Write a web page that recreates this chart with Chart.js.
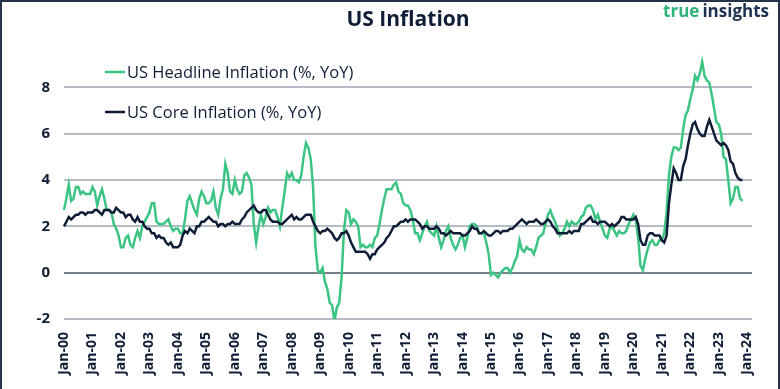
<!DOCTYPE html>
<html>
<head>
<meta charset="utf-8">
<script src="https://cdn.jsdelivr.net/npm/chart.js@4.4.1/dist/chart.umd.min.js"></script>
<style>
  html, body { margin: 0; padding: 0; background: #ffffff; }
  #wrap { width: 780px; height: 389px; position: relative; }
</style>
</head>
<body>
<div id="wrap"><canvas id="inflationChart" width="780" height="389"></canvas></div>
<script>
// US CPI, % YoY, monthly Jan 2000 - Nov 2023
const startYear = 2000;
const endYear = 2024; // axis runs a little past Jan-24
const extraMonths = 3;

const headline = [
  2.7, 3.2, 3.8, 3.1, 3.2, 3.7, 3.7, 3.4, 3.5, 3.4, 3.4, 3.4,
  3.7, 3.5, 2.9, 3.3, 3.6, 3.2, 2.7, 2.7, 2.6, 2.1, 1.9, 1.6,
  1.1, 1.1, 1.5, 1.6, 1.2, 1.1, 1.5, 1.8, 1.5, 2.0, 2.2, 2.4,
  2.6, 3.0, 3.0, 2.2, 2.1, 2.1, 2.1, 2.2, 2.3, 2.0, 1.8, 1.9,
  1.9, 1.7, 1.7, 2.3, 3.1, 3.3, 3.0, 2.7, 2.5, 3.2, 3.5, 3.3,
  3.0, 3.0, 3.1, 3.5, 2.8, 2.5, 3.2, 3.6, 4.7, 4.3, 3.5, 3.4,
  4.0, 3.6, 3.4, 3.5, 4.2, 4.3, 4.1, 3.8, 2.1, 1.3, 2.0, 2.5,
  2.1, 2.4, 2.8, 2.6, 2.7, 2.7, 2.4, 2.0, 2.8, 3.5, 4.3, 4.1,
  4.3, 4.0, 4.0, 3.9, 4.2, 5.0, 5.6, 5.4, 4.9, 3.7, 1.1, 0.1,
  0.0, 0.2, -0.4, -0.7, -1.3, -1.4, -2.1, -1.5, -1.3, -0.2, 1.8, 2.7,
  2.6, 2.1, 2.3, 2.2, 2.0, 1.1, 1.2, 1.1, 1.1, 1.2, 1.1, 1.5,
  1.6, 2.1, 2.7, 3.2, 3.6, 3.6, 3.6, 3.8, 3.9, 3.5, 3.4, 3.0,
  2.9, 2.9, 2.7, 2.3, 1.7, 1.7, 1.4, 1.7, 2.0, 2.2, 1.8, 1.7,
  1.6, 2.0, 1.5, 1.1, 1.4, 1.8, 2.0, 1.5, 1.2, 1.0, 1.2, 1.5,
  1.6, 1.1, 1.5, 2.0, 2.1, 2.1, 2.0, 1.7, 1.7, 1.7, 1.3, 0.8,
  -0.1, 0.0, -0.1, -0.2, 0.0, 0.1, 0.2, 0.2, 0.0, 0.2, 0.5, 0.7,
  1.4, 1.0, 0.9, 1.1, 1.0, 1.0, 0.8, 1.1, 1.5, 1.6, 1.7, 2.1,
  2.5, 2.7, 2.4, 2.2, 1.9, 1.6, 1.7, 1.9, 2.2, 2.0, 2.2, 2.1,
  2.1, 2.2, 2.4, 2.5, 2.8, 2.9, 2.9, 2.7, 2.3, 2.5, 2.2, 1.9,
  1.6, 1.5, 1.9, 2.0, 1.8, 1.6, 1.8, 1.7, 1.7, 1.8, 2.1, 2.3,
  2.5, 2.3, 1.5, 0.3, 0.1, 0.6, 1.0, 1.3, 1.4, 1.2, 1.2, 1.4,
  1.4, 1.7, 2.6, 4.2, 5.0, 5.4, 5.4, 5.3, 5.4, 6.2, 6.8, 7.0,
  7.5, 7.9, 8.5, 8.3, 8.6, 9.1, 8.5, 8.3, 8.2, 7.7, 7.1, 6.5,
  6.4, 6.0, 5.0, 4.9, 4.0, 3.0, 3.2, 3.7, 3.7, 3.2, 3.1
];

const core = [
  2.0, 2.2, 2.4, 2.3, 2.4, 2.5, 2.5, 2.6, 2.6, 2.5, 2.6, 2.6,
  2.6, 2.7, 2.7, 2.6, 2.5, 2.7, 2.7, 2.7, 2.6, 2.6, 2.8, 2.7,
  2.6, 2.6, 2.4, 2.5, 2.5, 2.3, 2.2, 2.4, 2.2, 2.2, 2.0, 1.9,
  1.9, 1.7, 1.7, 1.5, 1.6, 1.5, 1.5, 1.3, 1.2, 1.3, 1.1, 1.1,
  1.1, 1.2, 1.6, 1.8, 1.7, 1.9, 1.8, 1.7, 2.0, 2.0, 2.2, 2.2,
  2.3, 2.4, 2.3, 2.2, 2.2, 2.0, 2.1, 2.1, 2.0, 2.1, 2.1, 2.2,
  2.1, 2.1, 2.1, 2.3, 2.4, 2.6, 2.7, 2.8, 2.9, 2.7, 2.6, 2.6,
  2.7, 2.7, 2.5, 2.3, 2.2, 2.2, 2.2, 2.1, 2.1, 2.2, 2.3, 2.4,
  2.5, 2.3, 2.4, 2.3, 2.3, 2.4, 2.5, 2.5, 2.5, 2.2, 2.0, 1.8,
  1.7, 1.8, 1.8, 1.9, 1.8, 1.7, 1.5, 1.4, 1.5, 1.7, 1.7, 1.8,
  1.6, 1.3, 1.1, 0.9, 0.9, 0.9, 0.9, 0.9, 0.8, 0.6, 0.8, 0.8,
  1.0, 1.1, 1.2, 1.3, 1.5, 1.6, 1.8, 2.0, 2.0, 2.1, 2.2, 2.2,
  2.3, 2.2, 2.3, 2.3, 2.3, 2.2, 2.1, 1.9, 2.0, 2.0, 1.9, 1.9,
  1.9, 2.0, 1.9, 1.7, 1.7, 1.6, 1.7, 1.8, 1.7, 1.7, 1.7, 1.7,
  1.6, 1.6, 1.7, 1.8, 2.0, 1.9, 1.9, 1.7, 1.7, 1.8, 1.7, 1.6,
  1.6, 1.7, 1.8, 1.8, 1.7, 1.8, 1.8, 1.8, 1.9, 1.9, 2.0, 2.1,
  2.2, 2.3, 2.2, 2.1, 2.2, 2.2, 2.2, 2.3, 2.2, 2.1, 2.1, 2.2,
  2.3, 2.2, 2.0, 1.9, 1.7, 1.7, 1.7, 1.7, 1.7, 1.8, 1.7, 1.8,
  1.8, 1.8, 2.1, 2.1, 2.2, 2.3, 2.4, 2.2, 2.2, 2.1, 2.2, 2.2,
  2.2, 2.1, 2.0, 2.1, 2.0, 2.1, 2.2, 2.4, 2.4, 2.3, 2.3, 2.3,
  2.3, 2.4, 2.1, 1.4, 1.2, 1.2, 1.6, 1.7, 1.7, 1.6, 1.6, 1.6,
  1.4, 1.3, 1.6, 3.0, 3.8, 4.5, 4.3, 4.0, 4.0, 4.6, 4.9, 5.5,
  6.0, 6.4, 6.5, 6.2, 6.0, 5.9, 5.9, 6.3, 6.6, 6.3, 6.0, 5.7,
  5.6, 5.5, 5.6, 5.5, 5.3, 4.8, 4.7, 4.3, 4.1, 4.0, 4.0
];

const yTicks = [-2, 0, 2, 4, 6, 8];

const GREEN = "#3cc483";
const NAVY = "#0f1e36";

// month labels
const months = [];
for (let y = startYear; y <= endYear; y++) {
  for (let m = 0; m < 12; m++) {
    if (y === endYear && m >= extraMonths) break;
    months.push({ y: y, m: m });
  }
}
const labels = months.map((d) => d.y + "-" + String(d.m + 1).padStart(2, "0"));

// title, logo, legend and frame
const decorPlugin = {
  id: "decor",
  afterDraw(chart) {
    const ctx = chart.ctx;
    const area = chart.chartArea;
    ctx.save();

    // title
    ctx.fillStyle = NAVY;
    ctx.font = "bold 21px 'Open Sans', sans-serif";
    ctx.textAlign = "center";
    ctx.textBaseline = "middle";
    ctx.fillText("US Inflation", (area.left + area.right) / 2, 20);

    // logo
    ctx.font = "bold 17px 'Open Sans', sans-serif";
    ctx.textAlign = "left";
    const w1 = ctx.measureText("true").width;
    const w2 = ctx.measureText("insights").width;
    const x0 = 769 - w1 - 3 - w2;
    ctx.fillStyle = "#2fb57a";
    ctx.fillText("true", x0, 12);
    ctx.fillStyle = "#1d3050";
    ctx.fillText("insights", x0 + w1 + 3, 12);

    // legend
    ctx.font = "16.5px 'Open Sans', sans-serif";
    chart.data.datasets.forEach((ds) => {
      const y = ds.legendY;
      ctx.strokeStyle = ds.borderColor;
      ctx.lineWidth = 2.5;
      ctx.beginPath();
      ctx.moveTo(105, y);
      ctx.lineTo(125, y);
      ctx.stroke();
      ctx.fillStyle = NAVY;
      ctx.fillText(ds.label, 127, y + 1);
    });

    // frame
    ctx.strokeStyle = "#26344a";
    ctx.lineWidth = 2;
    ctx.strokeRect(1, 1, 778, 400);
    ctx.restore();
  },
};

new Chart(document.getElementById("inflationChart"), {
  type: "line",
  data: {
    labels: labels,
    datasets: [
      {
        label: "US Headline Inflation (%, YoY)",
        data: headline,
        borderColor: GREEN,
        borderWidth: 2.5,
        pointRadius: 0,
        tension: 0,
        order: 2,
        legendY: 72,
      },
      {
        label: "US Core Inflation (%, YoY)",
        data: core,
        borderColor: NAVY,
        borderWidth: 2.5,
        pointRadius: 0,
        tension: 0,
        order: 1,
        legendY: 112,
      },
    ],
  },
  options: {
    responsive: false,
    animation: false,
    layout: {
      padding: { top: 41, right: 28, bottom: 0, left: 0 },
    },
    plugins: {
      legend: { display: false },
      title: { display: false },
      tooltip: { enabled: false },
    },
    scales: {
      x: {
        type: "category",
        offset: false,
        grid: { display: false, drawTicks: false },
        border: { display: false },
        ticks: {
          autoSkip: false,
          maxRotation: 90,
          minRotation: 90,
          padding: 13,
          color: NAVY,
          font: { family: "'Open Sans', sans-serif", size: 14, weight: "bold" },
          callback: function (value, index) {
            const d = months[index];
            if (d.m !== 0) return null;
            return "Jan-" + String(d.y % 100).padStart(2, "0");
          },
        },
        afterFit: function (scale) {
          scale.height = 70;
        },
      },
      y: {
        min: -2,
        max: 10,
        grid: {
          drawTicks: false,
          lineWidth: 2,
          color: function (ctx) {
            const v = ctx.tick ? ctx.tick.value : null;
            if (v === 0) return "#77818e";
            if (!yTicks.includes(v)) return "rgba(0,0,0,0)";
            return "#b4bcc6";
          },
        },
        border: { display: false },
        ticks: {
          stepSize: 2,
          padding: 14,
          color: NAVY,
          font: { family: "'Open Sans', sans-serif", size: 15, weight: "bold" },
          callback: function (value) {
            return yTicks.includes(value) ? value : "";
          },
        },
        afterFit: function (scale) {
          scale.width = 64;
        },
      },
    },
  },
  plugins: [decorPlugin],
});
</script>
</body>
</html>
